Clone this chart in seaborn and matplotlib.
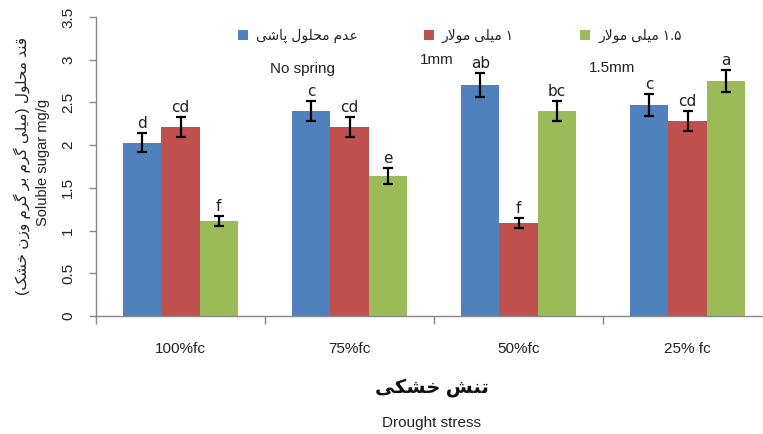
import re
import numpy as np
import pandas as pd
import matplotlib
matplotlib.use('Agg')
import matplotlib.pyplot as plt
import seaborn as sns

# values
stress = ['100%fc', '75%fc', '50%fc', '25% fc']
treatments = ['عدم محلول پاشی', '۱ میلی مولار', '۱.۵ میلی مولار']
no_spray = [2.03, 2.40, 2.70, 2.47]
mm1 = [2.21, 2.21, 1.09, 2.28]
mm15 = [1.11, 1.64, 2.40, 2.75]
err_no_spray = [0.11, 0.12, 0.14, 0.13]
err_mm1 = [0.12, 0.12, 0.06, 0.12]
err_mm15 = [0.06, 0.09, 0.12, 0.13]
let_no_spray = ['d', 'c', 'ab', 'c']
let_mm1 = ['cd', 'cd', 'f', 'cd']
let_mm15 = ['f', 'e', 'bc', 'a']
colors = ['#4F81BD', '#C0504D', '#9BBB59']

# matplotlib does no arabic shaping, so do it by hand for the letters used here
FORMS = {
    'ا': ('\ufe8d', '\ufe8e'),
    'د': ('\ufea9', '\ufeaa'),
    'ر': ('\ufead', '\ufeae'),
    'ز': ('\ufeaf', '\ufeb0'),
    'و': ('\ufeed', '\ufeee'),
    'ب': ('\ufe8f', '\ufe90', '\ufe91', '\ufe92'),
    'پ': ('\ufb56', '\ufb57', '\ufb58', '\ufb59'),
    'ت': ('\ufe95', '\ufe96', '\ufe97', '\ufe98'),
    'ح': ('\ufea1', '\ufea2', '\ufea3', '\ufea4'),
    'خ': ('\ufea5', '\ufea6', '\ufea7', '\ufea8'),
    'ش': ('\ufeb5', '\ufeb6', '\ufeb7', '\ufeb8'),
    'ع': ('\ufec9', '\ufeca', '\ufecb', '\ufecc'),
    'ق': ('\ufed5', '\ufed6', '\ufed7', '\ufed8'),
    'ک': ('\ufb8e', '\ufb8f', '\ufb90', '\ufb91'),
    'گ': ('\ufb92', '\ufb93', '\ufb94', '\ufb95'),
    'ل': ('\ufedd', '\ufede', '\ufedf', '\ufee0'),
    'م': ('\ufee1', '\ufee2', '\ufee3', '\ufee4'),
    'ن': ('\ufee5', '\ufee6', '\ufee7', '\ufee8'),
    'ی': ('\ufbfc', '\ufbfd', '\ufbfe', '\ufbff'),
}


def fa(text):
    out = []
    i = 0
    n = len(text)
    while i < n:
        c = text[i]
        if c not in FORMS:
            out.append(c)
            i += 1
            continue
        prev = text[i - 1] if i > 0 else ''
        joins_prev = prev in FORMS and len(FORMS[prev]) == 4
        if c == 'ل' and i + 1 < n and text[i + 1] == 'ا':
            out.append('\ufefc' if joins_prev else '\ufefb')
            i += 2
            continue
        nxt = text[i + 1] if i + 1 < n else ''
        f = FORMS[c]
        joins_next = len(f) == 4 and nxt in FORMS
        if joins_prev and joins_next:
            out.append(f[3])
        elif joins_prev:
            out.append(f[1])
        elif joins_next:
            out.append(f[2])
        else:
            out.append(f[0])
        i += 1
    s = ''.join(reversed(out))
    s = s.translate(str.maketrans('()', ')('))
    # numbers stay left to right
    s = re.sub(r'[0-9۰-۹][0-9۰-۹.]*', lambda m: m.group(0)[::-1], s)
    return s


labels = [fa(t) for t in treatments]
df = pd.DataFrame({
    'stress': stress * 3,
    'treat': np.repeat(labels, len(stress)),
    'value': no_spray + mm1 + mm15,
})

sns.set_theme(style='white')
plt.rcParams['font.family'] = ['Liberation Sans', 'DejaVu Sans']

fig = plt.figure(figsize=(7.63, 4.34), dpi=100)
ax = fig.add_axes([96 / 763, 1 - 316 / 434, 676 / 763, 299 / 434])

sns.barplot(data=df, x='stress', y='value', hue='treat', hue_order=labels,
            palette=colors, saturation=1, width=0.675, errorbar=None,
            linewidth=0, ax=ax)

values = [no_spray, mm1, mm15]
errors = [err_no_spray, err_mm1, err_mm15]
letters = [let_no_spray, let_mm1, let_mm15]
for cont, vals, errs, lets in zip(ax.containers, values, errors, letters):
    xs = [b.get_x() + b.get_width() / 2 for b in cont]
    ax.errorbar(xs, vals, yerr=errs, fmt='none', ecolor='black',
                elinewidth=1.6, capsize=3.6, capthick=1.6)
    for x, v, e, l in zip(xs, vals, errs, lets):
        ax.annotate(l, (x, v + e), xytext=(0, 1.5), textcoords='offset points',
                    ha='center', va='bottom', fontsize=11, color='#222222',
                    family='DejaVu Sans')

ax.set_xlim(-0.5, 3.5)
ax.set_ylim(0, 3.5)
ax.set_yticks(np.arange(0, 3.51, 0.5))
ax.set_yticklabels(['0', '0.5', '1', '1.5', '2', '2.5', '3', '3.5'],
                   rotation=90, va='center')
ax.set_xticks(range(len(stress)))
ax.set_xticklabels(stress)
ax.set_xticks(np.arange(-0.5, 3.6, 1), minor=True)
ax.tick_params(axis='x', which='major', length=0, pad=19, labelsize=11,
               labelcolor='#222222')
ax.tick_params(axis='x', which='minor', length=6, width=1, color='#888888',
               direction='out', bottom=True)
ax.tick_params(axis='y', length=5, width=1, color='#888888', direction='out',
               left=True, pad=10, labelsize=11, labelcolor='#222222')
ax.set_xlabel('')
ax.set_ylabel('')
sns.despine(ax=ax)
for side in ['left', 'bottom']:
    ax.spines[side].set_color('#888888')
    ax.spines[side].set_linewidth(1)

ax.legend(loc='upper left', bbox_to_anchor=(238 / 763, 1 - 29 / 434),
          bbox_transform=fig.transFigure, ncol=3, frameon=False, fontsize=10,
          handlelength=0.7, handleheight=0.7, handletextpad=0.6,
          columnspacing=4.75, borderaxespad=0, borderpad=0)

fig.text(302 / 763, 1 - 69 / 434, 'No spring', ha='center', va='center',
         fontsize=11, color='#222222')
fig.text(437 / 763, 1 - 60 / 434, '1mm', ha='center', va='center',
         fontsize=11, color='#222222')
fig.text(612 / 763, 1 - 68 / 434, '1.5mm', ha='center', va='center',
         fontsize=11, color='#222222')

fig.text(22 / 763, 1 - 166 / 434, fa('قند محلول (میلی گرم بر گرم وزن خشک)'),
         rotation=90, ha='center', va='center', fontsize=11, color='#222222')
fig.text(43 / 763, 1 - 162 / 434, 'Soluble sugar mg/g', rotation=90,
         ha='center', va='center', fontsize=10.5, color='#222222')
fig.text(432 / 763, 1 - 388 / 434, fa('تنش خشکی'), ha='center', va='center',
         fontsize=14, fontweight='bold', color='#111111')
fig.text(432 / 763, 1 - 423 / 434, 'Drought stress', ha='center', va='center',
         fontsize=11, color='#222222')

fig.savefig('out.png', dpi=100)
